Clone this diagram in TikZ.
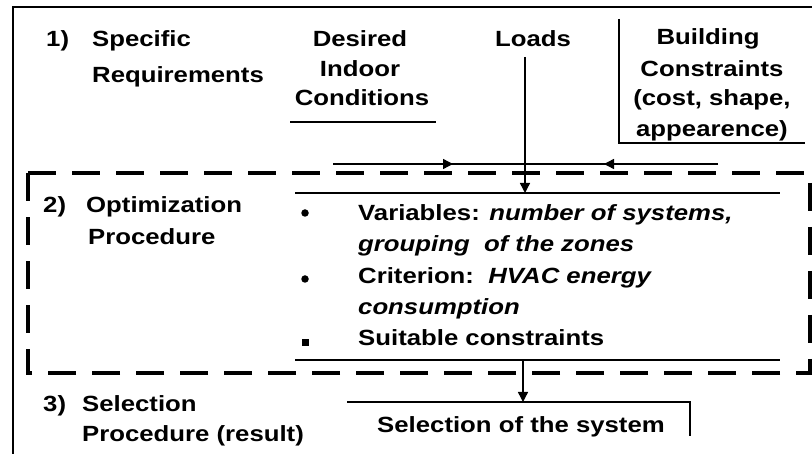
\documentclass[tikz,border=0pt]{standalone}
\usepackage{fontspec}
\setmainfont{Liberation Sans}[FakeStretch=1.17]
\usetikzlibrary{arrows.meta}
\tikzset{
  lbl/.style={anchor=base west, inner sep=0pt},
  clbl/.style={anchor=base, inner sep=0pt},
  thin line/.style={line width=1.4pt},
  frame line/.style={line width=2pt},
  dashbox/.style={line width=3.6pt, dash pattern=on 28pt off 16pt},
  arr/.style={thin line, -{Triangle[width=10pt,length=10pt]}},
  dot/.style={circle, fill=black, inner sep=0pt, minimum size=7.5pt},
  sq/.style={rectangle, fill=black, inner sep=0pt, minimum size=7pt}
}
\begin{document}
\begin{tikzpicture}[x=1pt,y=-1pt,font=\fontsize{22}{30}\selectfont\bfseries]
\useasboundingbox (0,0) rectangle (812,454);
% outer frame
\coordinate (fTR) at (812,7);
\coordinate (fTL) at (13,7);
\coordinate (fBL) at (13,454);
\draw[frame line] (fTR) -- (fTL) -- (fBL);

% 1) specific requirements
\node[lbl] (n1) at (46,47) {1)};
\node[lbl] (s1a) at (92,47) {Specific};
\node[lbl] (s1b) at (92,83) {Requirements};

% desired indoor conditions
\node[clbl] (d1) at (360,47) {Desired};
\node[clbl] (d2) at (360,77) {Indoor};
\node[clbl] (d3) at (362,106) {Conditions};
\coordinate (dUL) at (290,122);
\coordinate (dUR) at (436,122);
\draw[thin line] (dUL) -- (dUR);

% loads
\node[clbl] (loads) at (533,47) {Loads};
\coordinate (lTop) at (525,57);
\coordinate (lBot) at (525,193);
\draw[arr] (lTop) -- (lBot);

% building constraints
\node[clbl] (b1) at (708,45) {Building};
\node[clbl] (b2) at (712,77) {Constraints};
\node[clbl] (b3) at (712,106) {(cost, shape,};
\node[clbl] (b4) at (712,137) {appearence)};
\coordinate (bT) at (619,19);
\coordinate (bC) at (619,143);
\coordinate (bR) at (805,143);
\draw[thin line] (bT) -- (bC) -- (bR);

% feed line with arrows
\coordinate (fL) at (333,164);
\coordinate (fR) at (718,164);
\coordinate (fA1) at (453,164);
\coordinate (fA2) at (604,164);
\draw[thin line] (fL) -- (fR);
\draw[arr] (fL) -- (fA1);
\draw[arr] (fR) -- (fA2);

% dashed optimization box
\coordinate (oTL) at (28,173);
\coordinate (oTR) at (810,173);
\coordinate (oBR) at (810,373);
\coordinate (oBL) at (28,373);
\draw[dashbox] (oTL) -- (oTR) -- (oBR) -- (oBL) -- cycle;

\node[lbl] (n2) at (43,213) {2)};
\node[lbl] (s2a) at (86,213) {Optimization};
\node[lbl] (s2b) at (88,245) {Procedure};

% content lines
\coordinate (cTL) at (295,193);
\coordinate (cTR) at (780,193);
\coordinate (cBL) at (295,360);
\coordinate (cBR) at (780,360);
\draw[thin line] (cTL) -- (cTR);
\draw[thin line] (cBL) -- (cBR);

\node[dot] (bu1) at (305,213) {};
\node[dot] (bu2) at (305,279) {};
\node[sq] (bu3) at (305,343) {};
\node[lbl] (t1) at (358,221) {Variables: \textit{number of systems,}};
\node[lbl] (t2) at (358,252) {\textit{grouping\ \ of the zones}};
\node[lbl] (t3) at (358,284) {Criterion:\ \ \textit{HVAC energy}};
\node[lbl] (t4) at (358,315) {\textit{consumption}};
\node[lbl] (t5) at (358,346) {Suitable constraints};

% selection
\coordinate (aTop) at (523,360);
\coordinate (aBot) at (523,402);
\draw[arr] (aTop) -- (aBot);
\coordinate (sL) at (347,402);
\coordinate (sR) at (690,402);
\coordinate (sD) at (690,436);
\draw[thin line] (sL) -- (sR) -- (sD);
\node[clbl] (sel) at (521,432) {Selection of the system};

\node[lbl] (n3) at (43,412) {3)};
\node[lbl] (s3a) at (82,412) {Selection};
\node[lbl] (s3b) at (82,442) {Procedure (result)};
\end{tikzpicture}
\end{document}
